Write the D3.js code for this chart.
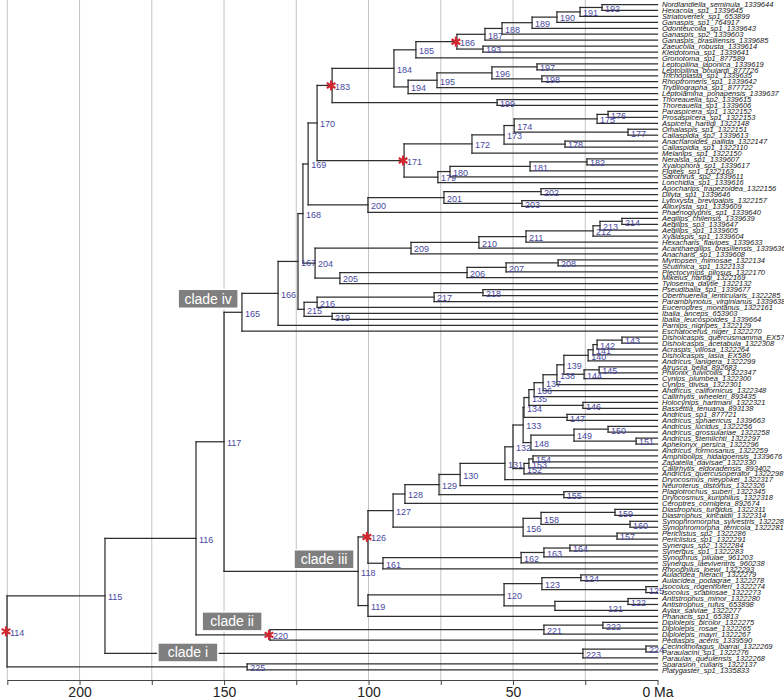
<!DOCTYPE html>
<html><head><meta charset="utf-8">
<script src="https://cdn.jsdelivr.net/npm/d3@7"></script>
<style>body{margin:0;background:#fff}svg{display:block}</style>
</head><body>
<svg id="chart" width="784" height="698"></svg>
<script>
// ---------- DATA ----------
const tipLabels = [
"Nordlandiella_seminula_1339644","Hexacola_sp1_1339645","Striatovertex_sp1_653899","Ganaspis_sp1_764917",
"Odonteucoila_sp1_1339643","Ganaspis_sp2_1339603","Ganaspis_brasiliensis_1339685","Zaeucoila_robusta_1339614",
"Kleidotoma_sp1_1339641","Gronotoma_sp1_877589","Leptopilina_japonica_1339619","Leptopilina_boulardi_877726",
"Trichoplasta_sp1_1339635","Rhoptromeris_sp1_1339642","Trybliographa_sp1_877722","Leptolamina_ponapensis_1339637",
"Thoreauella_sp2_1339615","Thoreauella_sp1_1339606","Paraspicera_sp1_1322152","Prosaspicera_sp1_1322153",
"Aspicera_hartigi_1322148","Omalaspis_sp1_1322151","Callaspidia_sp2_1339613","Anacharoides_pallida_1322147",
"Callaspidia_sp1_1322110","Melanips_sp1_1322150","Neralsia_sp1_1339607","Xyalophora_sp1_1339617",
"Figites_sp1_1322163","Sarothrus_sp2_1339611","Lonchidia_sp1_1339616","Apocharips_trapezoidea_1322156",
"Dilyta_sp1_1339646","Lytoxysta_brevipalpis_1322157","Alloxysta_sp1_1339609","Phaenoglyphis_sp1_1339640",
"Aegilips_chilensis_1339639","Aegilips_sp3_1339647","Aegilips_sp1_1339605","Xyalaspis_sp1_1339604",
"Hexacharis_flavipes_1339633","Acanthaegilips_brasiliensis_1339636","Anacharis_sp1_1339608","Myrtopsen_mimosae_1322134",
"Scutimica_sp1_1322133","Plectocynips_pilosus_1322170","Mikeius_hartigi_1322169","Tylosema_daytie_1322132",
"Pseudibalia_sp1_1339677","Oberthuerella_lenticularis_1322285","Paramblynotus_virginianus_1339638","Euceroptres_montanus_1322161",
"Ibalia_anceps_653903","Ibalia_leucospoides_1339664","Parnips_nigripes_1322129","Eschatocerus_niger_1322270",
"Disholcaspis_quercusmamma_EX579","Disholcaspis_acetabula_1322308","Acraspis_villosa_1322264","Disholcaspis_lasia_EX580",
"Andricus_lanigera_1322299","Atrusca_bella_892683","Philonix_fulvicollis_1322347","Cynips_plumbea_1322300",
"Cynips_divisa_1322301","Andricus_californicus_1322348","Callirhytis_wheeleri_893435","Holocynips_hartmani_1322321",
"Bassettia_tenuana_893138","Andricus_sp1_877721","Andricus_sphaericus_1339663","Andricus_lucidus_1322256",
"Andricus_grossulariae_1322258","Andricus_stemlichti_1322297","Aphelonyx_persica_1322296","Andricus_formosanus_1322259",
"Amphibolips_hidalgoensis_1339676","Zapatella_davisae_1322330","Callirhytis_eldoradensis_893402","Andricus_quercusoperator_1322298",
"Dryocosmus_nieypokei_1322317","Neuroterus_distortus_1322326","Plagiotrochus_suberi_1322345","Dryocosmus_kuriphilus_1322318",
"Ceroptres_cornigera_892674","Diastrophus_turgidus_1322311","Diastrophus_kincaidii_1322314","Synophromorpha_sylvestris_1322282",
"Synophromorpha_terricola_1322281","Periclistus_sp2_1322286","Periclistus_sp1_1322291","Synergus_sp2_1322284",
"Synergus_sp1_1322283","Synophrus_pilulae_961203","Synergus_laeviventris_960238","Rhoophilus_loewi_1322293",
"Aulacidea_hieracii_1322279","Aulacidea_podagrae_1322278","Isocolus_rogenhoferi_1322274","Isocolus_scabiosae_1322273",
"Antistrophus_minor_1322280","Antistrophus_rufus_653898","Aylax_salviae_1322277","Phanacis_sp1_653813",
"Diplolepis_bicolor_1322275","Diplolepis_rosae_1322265","Diplolepis_mayri_1322267","Pediaspis_aceris_1339590",
"Cecinothofagus_ibarrai_1322269","Paraulacini_sp1_1322276","Paraulax_queulensis_1322268","Sparasion_cullaris_1322137",
"Platygaster_sp1_1335833"
];
const firstNode = 114;
// children (top to bottom) of nodes 114..225; numbers <= 113 are tips
const nodeChildren = [
[115,225],[116,223],[117,220],[165,118],[126,119],[120,104],[123,121],[122,103],[101,102],[124,125],
[97,98],[99,100],[127,161],[128,156],[129,85],[130,155],[131,82],[132,81],[133,152],[134,148],
[135,147],[136,146],[137,67],[138,66],[139,65],[140,144],[141,61],[142,60],[143,59],[57,58],
[145,64],[62,63],[68,69],[70,71],[149,76],[150,151],[72,73],[74,75],[153,80],[154,79],
[77,78],[83,84],[158,157],[90,91],[159,160],[86,87],[88,89],[162,96],[163,95],[164,94],
[92,93],[166,56],[167,55],[168,215],[169,204],[170,200],[183,171],[172,179],[173,26],[174,178],
[175,177],[176,21],[19,20],[22,23],[24,25],[180,31],[181,30],[182,29],[27,28],[184,199],
[185,194],[186,10],[187,193],[188,7],[189,6],[190,5],[191,4],[192,3],[1,2],[8,9],
[195,16],[196,15],[197,198],[11,12],[13,14],[17,18],[201,36],[202,203],[32,33],[34,35],
[209,205],[206,48],[207,47],[208,46],[44,45],[210,43],[211,42],[212,41],[213,40],[214,39],
[37,38],[216,219],[217,52],[218,51],[49,50],[53,54],[221,108],[222,107],[105,106],[224,111],
[109,110],[112,113]
];
// node ages (Ma) for nodes 114..225
const nodeAges = [
225.1,191.2,159.7,150.0,103.6,100.2,53.1,35.5,10.2,40.0,
26.5,4.0,100.2,91.5,87.4,75.6,68.3,52.8,50.0,46.5,
46.2,44.5,42.7,39.6,34.8,32.4,24.0,22.3,20.9,12.3,
25.4,20.2,25.8,31.3,43.8,28.9,17.1,7.4,46.2,44.5,
43.1,32.4,46.5,14.0,40.3,14.7,9.5,95.0,47.2,39.3,
30.3,143.8,131.3,124.4,122.7,120.9,117.8,87.7,64.2,53.1,
49.6,20.9,17.1,10.2,32.0,76.0,71.8,44.1,24.4,112.6,
91.2,83.6,69.4,59.7,53.8,43.4,34.8,26.8,19.2,60.4,
86.3,76.3,57.3,41.7,40.0,55.5,100.2,73.9,40.3,46.9,
118.5,109.9,65.9,52.4,34.4,85.3,61.8,45.5,22.3,19.9,
12.3,122.3,117.8,77.3,60.4,112.6,134.1,39.3,18.9,25.8,
4.0,142.0
];
const starNodes = [114, 126, 171, 183, 186, 220];
const cladeNames = ["clade iv", "clade iii", "clade ii", "clade i"];
const cladeNodes = [165, 118, 220, 223];
const axisTicks = [225, 200, 175, 150, 125, 100, 75, 50, 25, 0];
const axisTickLabels = ["", "200", "", "150", "", "100", "", "50", "", "0 Ma"];

// ---------- LAYOUT ----------
const W = 784, H = 698, axisY = 680;
const svg = d3.select("#chart");
const x = d3.scaleLinear().domain([225, 0]).range([7.3, 657.5]);
const y = d3.scaleLinear().domain([1, tipLabels.length]).range([4.5, 669.8]);
const FONT = "'Liberation Sans', Arial, Helvetica, sans-serif";

const nodeY = {};
function isTip(n){ return n <= tipLabels.length; }
function age(n){ return isTip(n) ? 0 : nodeAges[n - firstNode]; }
function posY(n){
  if (nodeY[n] !== undefined) return nodeY[n];
  if (isTip(n)) return nodeY[n] = y(n);
  const ch = nodeChildren[n - firstNode];
  return nodeY[n] = d3.mean(ch, posY);
}
const allNodes = d3.range(firstNode, firstNode + nodeChildren.length);
allNodes.forEach(posY);

// gridlines
svg.append("g").selectAll("line").data(axisTicks.filter(t => t > 0)).join("line")
  .attr("x1", d => x(d)).attr("x2", d => x(d))
  .attr("y1", 0).attr("y2", axisY)
  .attr("stroke", "#c4c4c4").attr("stroke-width", 1);

// edges
const segs = [];
allNodes.forEach(n => {
  const ch = nodeChildren[n - firstNode];
  const ys = ch.map(posY);
  segs.push({x1: x(age(n)), x2: x(age(n)), y1: d3.min(ys), y2: d3.max(ys)});
  ch.forEach(c => segs.push({x1: x(age(n)), x2: x(age(c)), y1: posY(c), y2: posY(c)}));
});
svg.append("g").selectAll("line").data(segs).join("line")
  .attr("x1", d => d.x1).attr("x2", d => d.x2)
  .attr("y1", d => d.y1).attr("y2", d => d.y2)
  .attr("stroke", "#2e2e2e").attr("stroke-width", 1.25).attr("stroke-linecap", "square");

// clade boxes
const cladeBoxAge = {165: 155.5, 118: 115.4, 220: 147.2, 223: 162.5};
const cladeBoxDy = {165: -13.5, 118: -12, 220: -13.5, 223: -1};
const cg = svg.append("g").selectAll("g").data(cladeNodes).join("g")
  .attr("transform", n => `translate(${x(cladeBoxAge[n])},${posY(n) + cladeBoxDy[n]})`);
cg.append("rect").attr("x", -30).attr("y", -9.5).attr("width", 60).attr("height", 19)
  .attr("fill", "#7f7f7f").attr("stroke", "#fff").attr("stroke-width", 1.5);
cg.append("text").text((n, i) => cladeNames[i]).attr("text-anchor", "middle").attr("y", 5)
  .attr("fill", "#fff").style("font", `14px ${FONT}`);

// node labels
const labelNudge = {121: [50, 2]};
svg.append("g").selectAll("text").data(allNodes).join("text")
  .attr("x", n => x(age(n)) + 3 + (labelNudge[n] ? labelNudge[n][0] : 0))
  .attr("y", n => posY(n) + 4.3 + (labelNudge[n] ? labelNudge[n][1] : 0))
  .text(n => n)
  .attr("fill", "#4848a0").style("font", `9px ${FONT}`);

// stars
const star = svg.append("g").selectAll("g").data(starNodes).join("g")
  .attr("transform", n => `translate(${x(age(n)) - 1},${posY(n)})`);
[0, 60, 120].forEach(a => {
  star.append("line").attr("x1", 0).attr("y1", -5).attr("x2", 0).attr("y2", 5)
    .attr("transform", `rotate(${a})`)
    .attr("stroke", "#d22630").attr("stroke-width", 2.2);
});

// tip labels
svg.append("g").selectAll("text").data(tipLabels).join("text")
  .attr("x", x(0) + 4.5)
  .attr("y", (d, i) => y(i + 1) + 2.7)
  .text(d => d)
  .attr("fill", "#161616")
  .style("font", `italic 7.5px ${FONT}`);

// axis
const axis = d3.axisBottom(x).tickValues(axisTicks).tickSize(5).tickSizeOuter(0).tickPadding(2)
  .tickFormat((d, i) => axisTickLabels[i]);
const ag = svg.append("g").attr("transform", `translate(0,${axisY})`).call(axis);
ag.select(".domain").attr("stroke", "#444");
ag.selectAll(".tick line").attr("stroke", "#444");
ag.selectAll(".tick text").attr("fill", "#222").style("font", `14px ${FONT}`);
</script>
</body></html>
